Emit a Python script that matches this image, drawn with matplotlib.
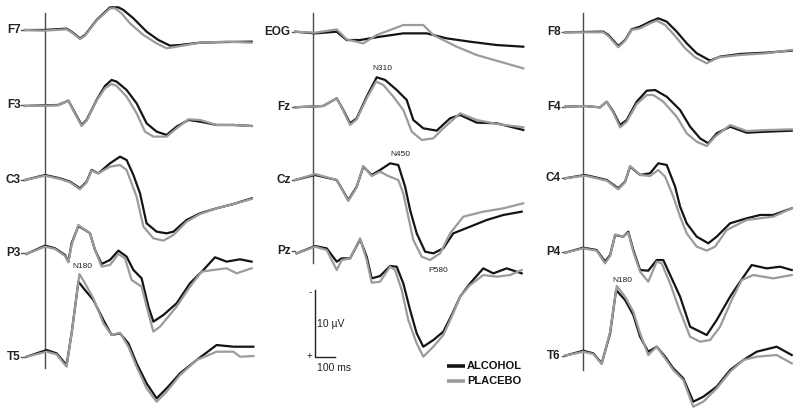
import matplotlib
matplotlib.use("Agg")
import matplotlib.pyplot as plt

plt.rcParams['font.family'] = ['Liberation Sans', 'DejaVu Sans']

# ---------------- data: (time ms, amplitude uV), negative plotted up ----------------
F7_ALC = [(-100,0),(-8,0),(108,-0.2),(133,0.25),(175,1.25),(200,0.75),(258,-1.5),(325,-3.4),(367,-3.4),
          (392,-3.0),(442,-1.75),(508,0.25),(567,1.5),(625,2.35),(675,2.25),(775,1.9),(908,1.8),(1033,1.75)]
F7_PLA = [(-100,0),(-8,0.1),(108,-0.1),(133,0.35),(175,1.35),(200,0.85),(258,-1.4),(325,-3.25),(350,-3.25),
          (383,-2.5),(425,-1.0),(492,0.75),(558,2.0),(608,2.75),(658,2.5),(775,1.9),(908,1.75),(1033,1.9)]
F3_ALC = [(-100,0.1),(0,0),(67,-0.05),(117,-0.7),(142,0.7),(183,2.95),(208,2.2),(258,-0.8),(300,-2.9),(333,-3.8),
          (358,-3.55),(408,-2.3),(458,-0.3),(508,2.7),(558,3.95),(608,4.45),(658,3.2),(717,2.2),(775,2.45),
          (858,2.95),(942,2.95),(1033,3.1)]
F3_PLA = [(-100,0.1),(0,0.05),(67,0),(117,-0.7),(142,0.8),(183,3.1),(208,2.3),(258,-0.7),(300,-2.55),(333,-3.2),
          (358,-2.9),(408,-1.3),(458,1.2),(500,3.95),(542,4.7),(608,4.7),(658,3.45),(717,2.1),(775,2.2),
          (858,2.95),(942,2.95),(1033,3.1)]
C3_ALC = [(-100,0),(0,-0.75),(75,-0.25),(125,0.25),(175,1.25),(208,0.25),(233,-1.5),(267,-1.0),(325,-2.5),
          (375,-3.5),(408,-3.0),(442,-0.75),(475,2.0),(508,6.5),(558,7.75),(608,8.0),(642,7.75),(708,6.0),
          (775,5.0),(858,4.25),(942,3.6),(1033,2.75)]
C3_PLA = [(-100,0),(0,-0.65),(75,-0.15),(125,0.35),(175,1.4),(208,0.35),(233,-1.4),(267,-1.0),(325,-2.0),
          (375,-2.25),(408,-1.5),(458,2.5),(492,7.0),(542,8.75),(592,9.1),(642,8.25),(708,6.25),(775,5.1),
          (858,4.25),(942,3.6),(1033,2.85)]
P3_ALC = [(-92,0.1),(0,-1.15),(50,-0.75),(100,0.25),(117,1.25),(133,-1.5),(167,-4.1),(200,-3.5),(225,-3.0),
          (250,-0.5),(283,1.6),(325,1.0),(367,-0.4),(408,0.5),(442,2.5),(483,3.75),(517,8.0),(542,10.25),
          (592,9.25),(658,7.5),(725,4.5),(792,2.5),(850,0.6),(908,1.25),(975,0.9),(1033,1.25)]
P3_PLA = [(-92,0.1),(0,-1.0),(50,-0.65),(100,0.4),(117,1.35),(133,-1.25),(167,-4.25),(200,-3.5),(225,-3.0),
          (250,-0.5),(283,2.0),(325,1.75),(367,0.1),(400,0.75),(433,4.0),(483,5.0),(517,9.0),(542,11.75),
          (575,11.0),(658,8.0),(725,5.0),(783,2.75),(842,2.5),(908,2.25),(958,3.0),(1033,2.25)]
T5_ALC = [(-92,0),(8,-1.0),(58,-0.5),(108,1.25),(133,-3.5),(167,-11.25),(200,-10.0),(242,-8.5),(292,-5.5),
          (333,-3.25),(375,-3.5),(417,-2.0),(458,1.0),(508,4.0),(558,6.25),(608,4.75),(675,2.5),(758,0.5),
          (858,-1.75),(942,-1.5),(1042,-1.5)]
T5_PLA = [(-92,0),(8,-0.75),(58,-0.35),(108,1.5),(133,-3.5),(172,-12.4),(200,-11.0),(242,-8.75),(292,-5.0),
          (333,-3.25),(375,-3.6),(417,-1.5),(458,1.5),(508,4.75),(558,6.75),(608,5.25),(675,2.75),(758,0.5),
          (858,-0.75),(942,-0.75),(975,0),(1042,-0.1)]

EOG_ALC = [(-88,0),(12,0.25),(120,0),(170,1.25),(237,1.25),(337,0.75),(453,0.25),(570,0.25),(670,1.0),
           (787,1.5),(920,2.0),(1053,2.25)]
EOG_PLA = [(-88,0),(12,0.15),(120,-0.35),(170,1.15),(253,1.75),(320,0.5),(453,-1.0),(553,-1.0),(603,0.5),
           (720,2.25),(820,3.5),(937,4.5),(1053,5.5)]
FZ_ALC = [(-88,0),(53,-0.2),(120,-1.35),(153,0.4),(187,2.4),(220,1.65),(270,-1.6),(320,-4.5),(362,-4.1),
          (420,-2.6),(470,-1.1),(503,1.9),(553,3.15),(620,3.5),(687,1.65),(737,1.15),(820,2.3),(920,2.4),(1053,3.4)]
FZ_PLA = [(-88,0),(53,-0.2),(120,-1.35),(153,0.5),(187,2.65),(220,1.8),(270,-1.35),(317,-3.85),(353,-3.35),
          (403,-1.6),(453,0.4),(495,3.65),(545,4.9),(603,4.65),(653,3.15),(737,0.9),(820,1.9),(920,2.5),(1053,3.0)]
CZ_ALC = [(-88,0),(12,-0.75),(120,0),(178,3.0),(220,1.0),(253,-2.0),(295,-0.75),(337,-1.5),(387,-2.5),
          (428,-2.25),(462,1.0),(487,4.5),(520,8.0),(562,10.75),(603,11.0),(653,10.25),(703,8.0),(787,7.0),
          (870,6.0),(953,5.25),(1045,4.75)]
CZ_PLA = [(-88,0),(12,-0.9),(120,0),(178,3.15),(220,1.1),(253,-2.1),(295,-0.6),(337,-1.25),(378,-0.6),
          (428,0),(453,2.0),(478,5.5),(503,9.0),(545,11.5),(587,12.0),(637,11.0),(687,8.0),(753,5.5),
          (853,4.75),(953,4.25),(1053,3.5)]
PZ_ALC = [(-80,0.4),(12,-0.7),(70,-0.35),(120,1.65),(145,1.15),(187,1.15),(237,-1.7),(270,0.9),(295,4.15),
          (337,3.8),(387,2.3),(420,2.4),(453,4.9),(487,8.9),(520,12.4),(553,14.4),(603,13.4),(653,12.15),
          (695,9.65),(737,6.9),(787,4.9),(853,2.65),(903,3.4),(970,2.65),(1045,3.4)]
PZ_PLA = [(-80,0.4),(12,-0.6),(70,-0.1),(120,2.9),(145,1.4),(187,1.15),(237,-1.85),(270,1.4),(295,4.8),
          (337,4.65),(387,2.4),(412,2.9),(445,5.9),(478,10.4),(520,13.9),(553,15.9),(603,14.4),(653,12.65),
          (695,9.9),(737,6.9),(787,5.15),(853,3.65),(920,3.9),(987,3.65),(1045,2.9)]

F8_ALC = [(-88,0),(103,-0.1),(128,0.4),(178,2.05),(212,1.15),(245,-0.45),(287,-0.85),(337,-1.6),(378,-2.1),
          (420,-1.6),(470,-0.1),(520,1.65),(570,3.15),(637,4.25),(687,3.65),(787,3.25),(920,3.05),(1045,2.75)]
F8_PLA = [(-88,0),(103,0),(128,0.55),(178,2.25),(212,1.25),(245,-0.35),(287,-0.6),(337,-1.35),(370,-1.75),
          (412,-1.1),(462,0.55),(512,2.4),(562,3.75),(620,4.65),(678,3.75),(787,3.4),(920,3.15),(1045,2.65)]
F4_ALC = [(-88,0),(12,-0.1),(87,0.1),(120,-0.75),(153,0.75),(187,2.75),(220,2.0),(270,-0.75),(320,-2.4),
          (362,-2.5),(420,-1.5),(487,0.5),(537,3.0),(587,4.75),(628,5.5),(670,4.0),(737,3.0),(820,3.9),
          (920,3.75),(1045,3.6)]
F4_PLA = [(-88,0),(12,-0.1),(87,0.1),(120,-0.75),(153,0.9),(187,3.1),(220,2.25),(270,-0.4),(320,-1.75),
          (353,-1.75),(403,-0.75),(470,1.5),(520,4.0),(570,5.25),(620,5.9),(662,4.5),(737,2.75),(820,3.65),
          (920,3.5),(1045,3.4)]
C4_ALC = [(-88,0),(12,-0.5),(120,0.25),(178,1.5),(212,0.5),(237,-1.75),(287,-0.5),(337,-0.75),(378,-2.25),
          (420,-2.0),(462,1.25),(487,4.25),(520,6.75),(570,8.75),(628,9.75),(670,8.75),(737,6.75),(820,6.0),
          (887,5.5),(953,5.5),(1045,4.5)]
C4_PLA = [(-88,0),(12,-0.4),(120,0.35),(178,1.65),(212,0.6),(237,-1.85),(287,-0.5),(337,-0.35),(378,-1.25),
          (412,-0.25),(453,2.75),(487,5.75),(520,8.25),(570,10.25),(620,10.85),(662,10.25),(720,7.75),
          (820,6.25),(953,5.75),(1045,4.5)]
P4_ALC = [(-88,0.15),(3,-0.6),(70,-0.25),(112,1.5),(137,0.5),(162,-2.5),(203,-2.25),(228,-3.0),(253,-0.25),
          (287,2.75),(328,2.85),(370,1.25),(403,1.25),(445,4.0),(487,6.75),(537,11.25),(587,12.0),(620,12.5),
          (670,10.25),(737,6.75),(787,4.5),(845,2.0),(920,2.5),(987,2.25),(1045,2.75)]
P4_PLA = [(-88,0.15),(3,-0.5),(70,-0.15),(112,1.75),(137,0.65),(162,-2.6),(203,-2.25),(228,-2.85),(253,0),
          (287,3.0),(328,4.5),(370,1.5),(395,1.75),(437,4.75),(478,8.25),(537,12.75),(587,13.5),(637,13.25),
          (687,11.25),(745,7.25),(795,4.25),(853,3.5),(953,4.0),(1045,3.5)]
T6_ALC = [(-88,0),(3,-0.75),(53,-0.35),(95,1.15),(137,-3.35),(167,-9.85),(212,-8.35),(253,-6.1),(287,-2.85),
          (328,-0.6),(370,-1.35),(412,0.15),(453,1.9),(503,3.4),(553,6.9),(603,6.15),(670,4.65),(737,2.15),
          (803,0.65),(870,-0.6),(970,-1.35),(1045,-0.1)]
T6_PLA = [(-88,0),(3,-0.6),(53,-0.25),(95,1.25),(137,-3.6),(170,-10.45),(212,-8.85),(253,-6.6),(287,-3.35),
          (328,-0.1),(370,-1.35),(412,0.4),(453,2.15),(503,3.65),(553,7.65),(603,6.9),(670,4.9),(737,2.4),
          (803,0.65),(870,0.15),(970,-0.1),(1045,1.15)]

LEFT = [("F7", F7_ALC, F7_PLA), ("F3", F3_ALC, F3_PLA), ("C3", C3_ALC, C3_PLA),
        ("P3", P3_ALC, P3_PLA), ("T5", T5_ALC, T5_PLA)]
MID = [("EOG", EOG_ALC, EOG_PLA), ("Fz", FZ_ALC, FZ_PLA), ("Cz", CZ_ALC, CZ_PLA), ("Pz", PZ_ALC, PZ_PLA)]
RIGHT = [("F8", F8_ALC, F8_PLA), ("F4", F4_ALC, F4_PLA), ("C4", C4_ALC, C4_PLA),
         ("P4", P4_ALC, P4_PLA), ("T6", T6_ALC, T6_PLA)]

# ---------------- layout ----------------
W, H = 800, 418
MS_PER_PX = 5.0
UV_PER_PX = 0.15
fig = plt.figure(figsize=(8, 4.18), dpi=100)

BLACK = "#141414"
GREY = "#9b9b9b"

def make_axes(x0, x1, onset_px):
    ax = fig.add_axes([x0 / W, 0, (x1 - x0) / W, 1])
    ax.set_xlim((x0 - onset_px) * MS_PER_PX, (x1 - onset_px) * MS_PER_PX)
    ax.set_ylim(H * UV_PER_PX, 0)
    ax.axis("off")
    return ax

columns = [
    (make_axes(0, 266, 45.0), LEFT, [30, 105.3, 180, 253.3, 356.7], 368, -100),
    (make_axes(266, 536, 312.7), MID, [31.7, 107.3, 180, 250.7], 263, -88),
    (make_axes(536, 800, 582.7), RIGHT, [32.3, 106.7, 178.3, 251.7, 355.7], 370, -88),
]

for ax, chans, bases, vline_end, start_t in columns:
    ax.plot([0, 0], [13 * UV_PER_PX, vline_end * UV_PER_PX], color="#4a4a4a", lw=1.0)
    for (name, alc, pla), base in zip(chans, bases):
        off = base * UV_PER_PX
        ta, va = zip(*alc)
        tp, vp = zip(*pla)
        # short connector dash between label and trace
        ax.plot([start_t - 18, start_t], [off, off], color="#555", lw=1.0)
        ax.plot(ta, [v + off for v in va], color=BLACK, lw=1.6, solid_joinstyle="round")
        ax.plot(tp, [v + off for v in vp], color=GREY, lw=1.6, solid_joinstyle="round")
        ax.text(start_t - 22, off, name, ha="right", va="center", fontsize=8.5,
                fontweight="bold", color="#222")

axL, axM, axR = columns[0][0], columns[1][0], columns[2][0]

def t_of(px, onset):
    return (px - onset) * MS_PER_PX

def v_of(py):
    return py * UV_PER_PX

# peak annotations
axL.text(t_of(72, 45), v_of(266), "N180", fontsize=6, ha="left", va="center", color="#222")
axM.text(t_of(382, 312.7), v_of(68), "N310", fontsize=6, ha="center", va="center", color="#222")
axM.text(t_of(400, 312.7), v_of(155), "N450", fontsize=6, ha="center", va="center", color="#222")
axM.text(t_of(438, 312.7), v_of(270), "P580", fontsize=6, ha="center", va="center", color="#222")
axR.text(t_of(622, 582.7), v_of(280), "N180", fontsize=6, ha="center", va="center", color="#222")

# scale bar (10 uV, 100 ms)
sb_t0 = t_of(315, 312.7)
sb_v1 = v_of(357)
axM.plot([sb_t0, sb_t0, sb_t0 + 100], [sb_v1 - 10, sb_v1, sb_v1], color="#222", lw=1.0)
axM.text(sb_t0 - 15, sb_v1 - 10 + 0.3, "-", fontsize=7, ha="right", va="center", color="#222")
axM.text(sb_t0 - 15, sb_v1 - 0.2, "+", fontsize=7, ha="right", va="center", color="#222")
axM.text(sb_t0 + 10, sb_v1 - 5, "10 µV", fontsize=7.5, ha="left", va="center", color="#222")
axM.text(sb_t0 + 10, v_of(368), "100 ms", fontsize=7.5, ha="left", va="center", color="#222")

# legend
lx0, lx1 = t_of(447, 312.7), t_of(465, 312.7)
axM.plot([lx0, lx1], [v_of(366)] * 2, color=BLACK, lw=2.6, solid_capstyle="butt")
axM.plot([lx0, lx1], [v_of(381)] * 2, color=GREY, lw=2.6, solid_capstyle="butt")
axM.text(t_of(467, 312.7), v_of(366), "ALCOHOL", fontsize=8, fontweight="bold", ha="left", va="center", color="#111")
axM.text(t_of(467, 312.7), v_of(381), "PLACEBO", fontsize=8, fontweight="bold", ha="left", va="center", color="#111")

fig.savefig("out.png", dpi=100, facecolor="white")
